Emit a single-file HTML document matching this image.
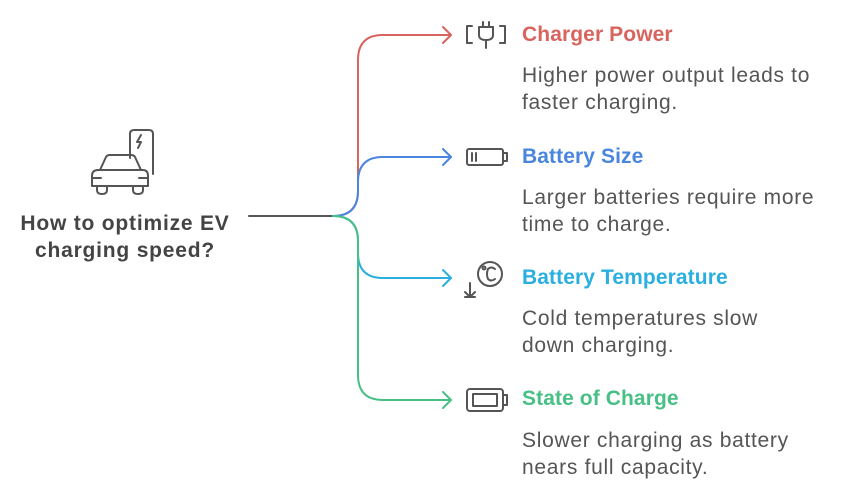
<!DOCTYPE html>
<html><head><meta charset="utf-8"><style>
body{margin:0;width:843px;height:494px;background:#fff;position:relative;overflow:hidden;font-family:"Liberation Sans",sans-serif}
.t{position:absolute;font-weight:bold;font-size:21px;letter-spacing:0.1px;white-space:nowrap}
.d{position:absolute;font-size:21px;letter-spacing:0.7px;color:#555;line-height:27px;white-space:nowrap}
</style></head><body>
<svg width="843" height="494" style="position:absolute;left:0;top:0" fill="none" stroke-width="2" stroke-linecap="round" stroke-linejoin="round">
<path d="M249 216 H333" stroke="#555"/>
<path d="M333 216 Q358 216 358 191 V60 Q358 35 383 35 H451" stroke="#d9645f"/>
<path d="M333 216 Q358 216 358 191 V182 Q358 157 383 157 H451" stroke="#4a86dd"/>
<path d="M333 216 Q358 216 358 241 V253 Q358 278 383 278 H451" stroke="#2aafe0"/>
<path d="M333 216 Q358 216 358 241 V375 Q358 400 383 400 H451" stroke="#48c085"/>
<path d="M443 27 L451 35 L443 43" stroke="#d9645f"/>
<path d="M443 149 L451 157 L443 165" stroke="#4a86dd"/>
<path d="M443 270 L451 278 L443 286" stroke="#2aafe0"/>
<path d="M443 392 L451 400 L443 408" stroke="#48c085"/>
<g stroke="#555" stroke-width="2">
<path d="M472 26 H467 V43 H472 M500 26 H505 V43 H500"/>
<path d="M479 27 V35 Q479 40 486 40 Q493 40 493 35 V27 Z M483 27 V22 M489 27 V22 M486 40 V48"/>
<rect x="467" y="149" width="36" height="16" rx="2"/>
<path d="M503 153 H507 V161 H503 M472 153 V161 M476 153 V161"/>
<circle cx="490" cy="274" r="12"/>
<circle cx="484" cy="268" r="1.5"/>
<path d="M495 269 Q491 266 488 269 Q486 274 488 279 Q491 282 495 279"/>
<path d="M470 283 V297 M465 292 L470 297 L475 292 M465 297 H475"/>
<rect x="467" y="389" width="36" height="22" rx="3"/>
<rect x="473" y="394" width="24" height="12"/>
<path d="M503 395 H507 V405 H503"/>
<path d="M130 158 V134 Q130 130 134 130 H149 Q153 130 153 134 V174"/>
<path d="M141 135 L137 142 H141 L138 148"/>
<path d="M100 170 L106 157 Q107 155 110 155 H131 Q134 155 135 157 L141 170"/>
<path d="M92 176 Q92 170 98 170 H143 Q148 170 148 176 V186 H92 Z"/>
<path d="M93 178 H101 M139 178 H147"/>
<path d="M97 186 V190 Q97 194 102 194 Q107 194 107 190 V186 M133 186 V190 Q133 194 138 194 Q143 194 143 190 V186"/>
</g>
</svg>
<div class="t" style="left:0;width:250px;text-align:center;top:210px;color:#444;letter-spacing:0.8px;line-height:27px">How to optimize EV<br>charging speed?</div>
<div class="t" style="left:522px;top:23px;color:#d9645f">Charger Power</div>
<div class="d" style="left:522px;top:62px">Higher power output leads to<br>faster charging.</div>
<div class="t" style="left:522px;top:145px;color:#4a86dd">Battery Size</div>
<div class="d" style="left:522px;top:184px">Larger batteries require more<br>time to charge.</div>
<div class="t" style="left:522px;top:266px;color:#2aafe0">Battery Temperature</div>
<div class="d" style="left:522px;top:305px">Cold temperatures slow<br>down charging.</div>
<div class="t" style="left:522px;top:387px;color:#48c085">State of Charge</div>
<div class="d" style="left:522px;top:427px">Slower charging as battery<br>nears full capacity.</div>
</body></html>
